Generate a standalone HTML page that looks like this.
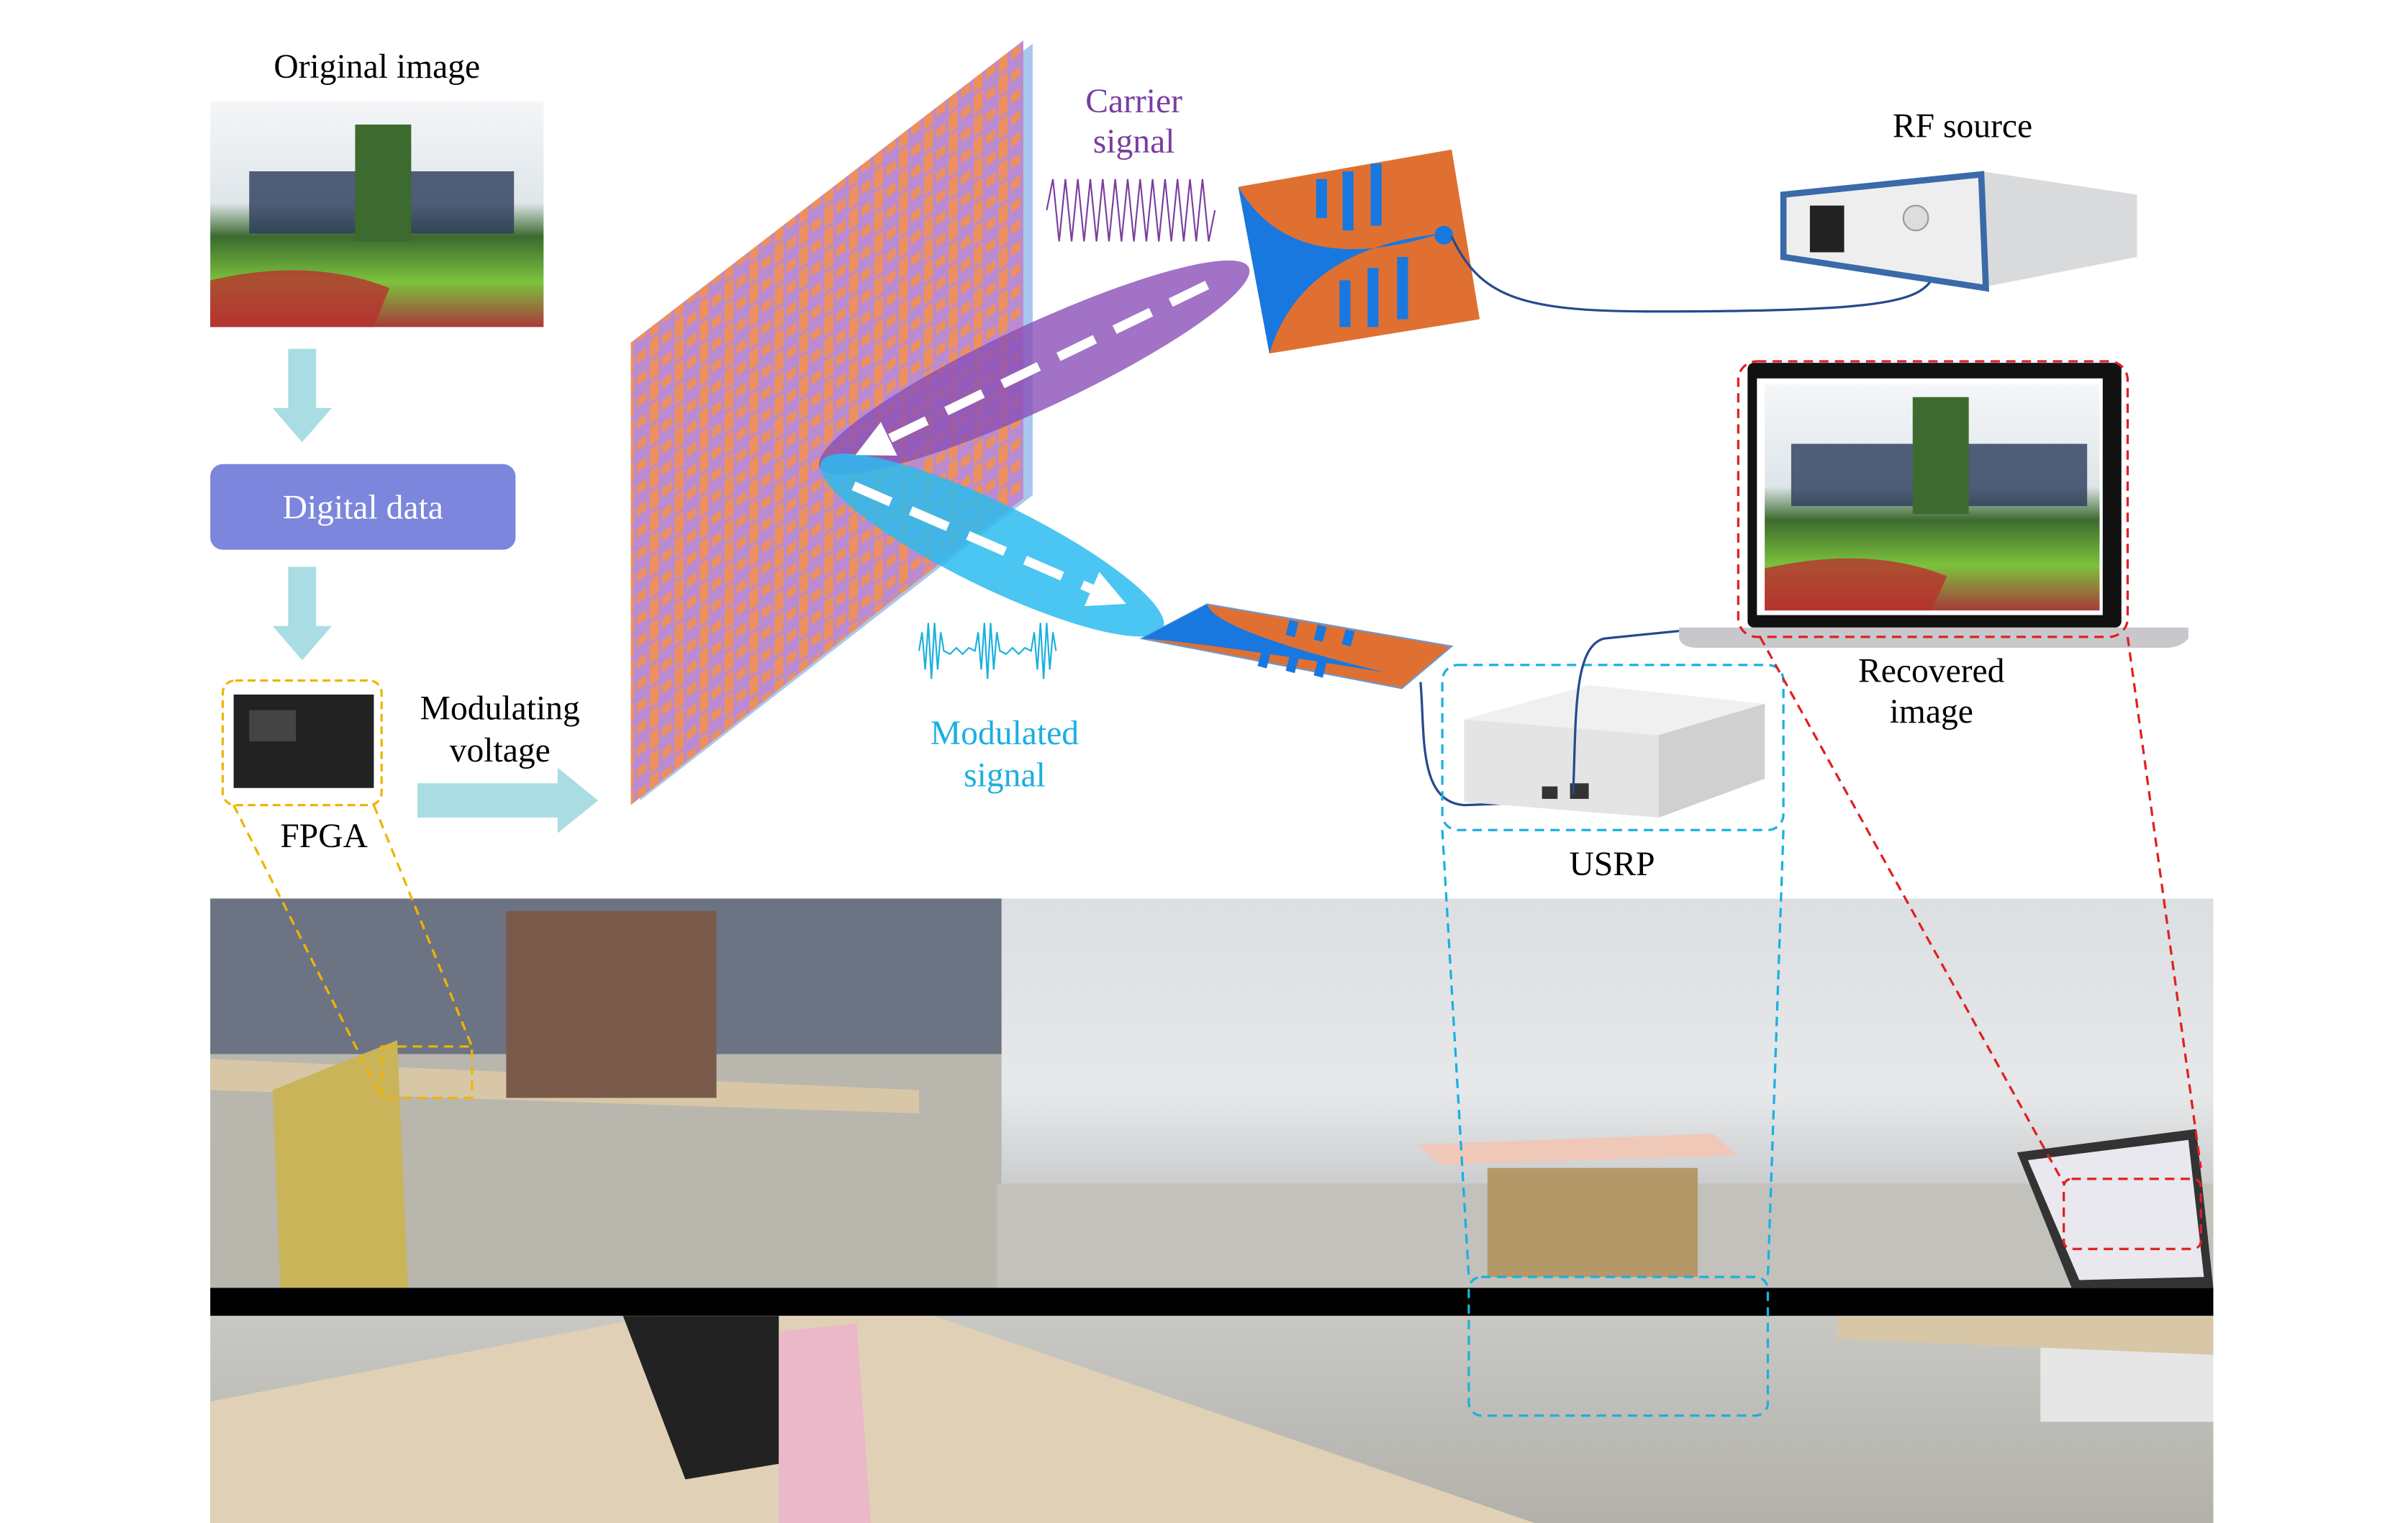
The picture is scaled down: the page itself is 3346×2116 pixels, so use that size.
<!DOCTYPE html>
<html><head><meta charset="utf-8"><style>
html,body{margin:0;padding:0;background:#fff;width:3346px;height:2116px;overflow:hidden}
svg{display:block}
text{font-family:"Liberation Serif",serif;font-size:22px;text-anchor:middle}
</style></head><body>
<svg width="3346" height="2116" viewBox="0 0 1546 978" preserveAspectRatio="none" xmlns="http://www.w3.org/2000/svg">
<defs>
<pattern id="meta" width="16" height="14" patternUnits="userSpaceOnUse" patternTransform="skewY(-37)">
<rect width="16" height="14" fill="#b98bd2"/>
<rect x="1" y="1" width="6" height="12" fill="#ec9060"/>
<rect x="9" y="4" width="6" height="6" fill="#ec9060"/>
</pattern>
<linearGradient id="sky" x1="0" y1="0" x2="0" y2="1"><stop offset="0" stop-color="#f4f6f8"/><stop offset="0.45" stop-color="#dfe6ea"/><stop offset="0.6" stop-color="#3c6a30"/><stop offset="0.8" stop-color="#7cc23c"/><stop offset="1" stop-color="#a83a3a"/></linearGradient>
<linearGradient id="wall" x1="0" y1="0" x2="0" y2="1"><stop offset="0" stop-color="#dcdfe2"/><stop offset="0.5" stop-color="#e6e8ea"/><stop offset="0.7" stop-color="#cfd1d3"/><stop offset="1" stop-color="#a9a9a6"/></linearGradient>
<linearGradient id="low" x1="0" y1="0" x2="0" y2="1"><stop offset="0" stop-color="#c8c8c4"/><stop offset="1" stop-color="#b0aea8"/></linearGradient>
<marker id="ah" viewBox="0 0 10 10" refX="5" refY="5" markerWidth="4" markerHeight="4" orient="auto"><path d="M0,0L10,5L0,10z" fill="#fff"/></marker>
</defs>

<!-- Original image -->
<text x="242" y="50">Original image</text>
<rect x="135" y="65" width="214" height="145" fill="url(#sky)"/>
<rect x="160" y="110" width="170" height="40" fill="#2a3a5a" opacity="0.8"/>
<rect x="228" y="80" width="36" height="75" fill="#3d6a2e"/>
<path d="M135,180 Q200,165 250,185 L240,210 L135,210z" fill="#b8322e" opacity="0.8"/>

<!-- down arrows -->
<path d="M185,224h18v38h10l-19,22l-19,-22h10z" fill="#a9dde3"/>
<rect x="135" y="298" width="196" height="55" rx="8" fill="#7b86dc"/>
<text x="233" y="333" fill="#fff">Digital data</text>
<path d="M185,364h18v38h10l-19,22l-19,-22h10z" fill="#a9dde3"/>

<!-- FPGA -->
<rect x="143" y="437" width="102" height="80" rx="8" fill="none" stroke="#f0b400" stroke-width="1.5" stroke-dasharray="5,3"/>
<rect x="150" y="446" width="90" height="60" fill="#222"/>
<rect x="160" y="456" width="30" height="20" fill="#444"/>
<text x="208" y="544">FPGA</text>
<text x="321" y="462">Modulating</text>
<text x="321" y="489">voltage</text>
<path d="M268,503h90v-10l26,21l-26,21v-10h-90z" fill="#a9dde3"/>

<!-- Metasurface -->
<path d="M411,222 L663,28 L663,318 L411,514z" fill="#a9c6ec"/>
<path d="M405,220 L657,26 L657,320 L405,517z" fill="url(#meta)"/>

<!-- Beams -->
<ellipse cx="664" cy="236" rx="152" ry="27" transform="rotate(-25 664 236)" fill="#8a4fb8" opacity="0.8"/>
<ellipse cx="637" cy="350" rx="122" ry="27" transform="rotate(26 637 350)" fill="#2cbbee" opacity="0.85"/>
<line x1="775" y1="183" x2="560" y2="287" stroke="#fff" stroke-width="6" stroke-dasharray="26,14" marker-end="url(#ah)"/>
<line x1="548" y1="312" x2="712" y2="383" stroke="#fff" stroke-width="6" stroke-dasharray="26,14" marker-end="url(#ah)"/>

<!-- carrier signal -->
<text x="728" y="72" fill="#7a3e9e">Carrier</text>
<text x="728" y="98" fill="#7a3e9e">signal</text>
<path d="M672,135 l4,-20 l4,40 l4,-40 l4,40 l4,-40 l4,40 l4,-40 l4,40 l4,-40 l4,40 l4,-40 l4,40 l4,-40 l4,40 l4,-40 l4,40 l4,-40 l4,40 l4,-40 l4,40 l4,-40 l4,40 l4,-40 l4,40 l4,-40 l4,40 l4,-20" fill="none" stroke="#7a3e9e" stroke-width="1"/>

<!-- TX antenna -->
<path d="M795,120 L932,96 L950,205 L815,227z" fill="#e07032"/>
<path d="M795,120 Q830,180 925,150 Q835,160 815,227z" fill="#1878e0"/>
<g fill="#1878e0"><rect x="845" y="115" width="7" height="25"/><rect x="862" y="110" width="7" height="38"/><rect x="880" y="105" width="7" height="40"/><rect x="860" y="180" width="7" height="30"/><rect x="878" y="172" width="7" height="38"/><rect x="897" y="165" width="7" height="40"/></g>
<circle cx="927" cy="151" r="6" fill="#1878e0"/>
<path d="M932,152 C950,190 975,200 1060,200 C1200,200 1230,195 1240,180" fill="none" stroke="#274a8e" stroke-width="1.5"/>

<!-- RF source -->
<text x="1260" y="88">RF source</text>
<path d="M1145,125 L1272,110 L1372,125 L1372,165 L1270,185 L1145,165z" fill="#d8dadc"/>
<path d="M1145,125 L1272,112 L1275,185 L1145,165z" fill="#eeeeee" stroke="#3a6aa8" stroke-width="4"/>
<rect x="1162" y="132" width="22" height="30" fill="#222"/>
<circle cx="1230" cy="140" r="8" fill="#ddd" stroke="#999"/>

<!-- Modulated signal -->
<path d="M590,418 l2,-12 l2,24 l2,-30 l2,36 l2,-36 l2,30 l2,-24 l2,12 l4,2 l4,-4 l4,4 l4,-4 l4,2 l2,-12 l2,24 l2,-30 l2,36 l2,-36 l2,30 l2,-24 l2,12 l4,2 l4,-4 l4,4 l4,-4 l4,2 l2,-12 l2,24 l2,-30 l2,36 l2,-36 l2,30 l2,-24 l2,12" fill="none" stroke="#1ab0e0" stroke-width="1"/>
<text x="645" y="478" fill="#1ab0e0">Modulated</text>
<text x="645" y="505" fill="#1ab0e0">signal</text>

<!-- RX antenna -->
<path d="M733,410 L775,388 L932,415 L900,442z" fill="#e07032" stroke="#6a9ad0" stroke-width="1"/>
<path d="M733,410 L775,388 Q780,405 890,432 Q770,412 733,410z" fill="#1878e0"/>
<g fill="#1878e0"><rect x="828" y="398" width="6" height="10" transform="rotate(15 828 398)"/><rect x="846" y="401" width="6" height="10" transform="rotate(15 846 401)"/><rect x="864" y="404" width="6" height="10" transform="rotate(15 864 404)"/><rect x="810" y="418" width="6" height="10" transform="rotate(15 810 418)"/><rect x="828" y="421" width="6" height="10" transform="rotate(15 828 421)"/><rect x="846" y="424" width="6" height="10" transform="rotate(15 846 424)"/></g>
<path d="M912,438 C915,470 910,515 940,517 L995,515" fill="none" stroke="#274a8e" stroke-width="1.5"/>

<!-- USRP -->
<path d="M940,462 L1020,440 L1133,452 L1133,500 L1065,525 L940,515z" fill="#e4e4e4"/>
<path d="M940,462 L1020,440 L1133,452 L1065,472z" fill="#f0f0f0"/>
<path d="M1065,472 L1133,452 L1133,500 L1065,525z" fill="#d0d0d0"/>
<rect x="990" y="505" width="10" height="8" fill="#333"/><rect x="1008" y="503" width="12" height="10" fill="#333"/>
<rect x="926" y="427" width="219" height="106" rx="10" fill="none" stroke="#1ab0e0" stroke-width="1.5" stroke-dasharray="6,4"/>
<text x="1035" y="562">USRP</text>
<path d="M1010,510 C1012,460 1010,415 1030,410 L1080,405" fill="none" stroke="#274a8e" stroke-width="1.5"/>

<!-- Laptop -->
<rect x="1122" y="233" width="240" height="170" rx="4" fill="#111"/>
<rect x="1128" y="243" width="222" height="152" fill="#fff"/>
<rect x="1133" y="247" width="215" height="145" fill="url(#sky)"/>
<rect x="1150" y="285" width="190" height="40" fill="#2a3a5a" opacity="0.8"/>
<rect x="1228" y="255" width="36" height="75" fill="#3d6a2e"/>
<path d="M1133,365 Q1200,350 1250,370 L1240,392 L1133,392z" fill="#b8322e" opacity="0.8"/>
<path d="M1078,403 L1405,403 L1405,410 Q1400,416 1390,416 L1090,416 Q1080,416 1078,410z" fill="#c8c8cc"/>
<rect x="1116" y="232" width="250" height="177" rx="12" fill="none" stroke="#e02020" stroke-width="1.5" stroke-dasharray="6,4"/>
<text x="1240" y="438">Recovered</text>
<text x="1240" y="464">image</text>

<!-- Photo top -->
<rect x="135" y="577" width="1286" height="250" fill="url(#wall)"/>
<rect x="135" y="577" width="508" height="100" fill="#6c7484"/>
<rect x="135" y="677" width="508" height="150" fill="#b9b6ae"/>
<path d="M135,680 L590,700 L590,715 L135,700z" fill="#d7c7a6"/>
<rect x="325" y="585" width="135" height="120" fill="#7a5a4a"/>
<path d="M175,700 L255,668 L262,827 L180,827z" fill="#c9b45a"/>
<path d="M640,760 L1421,760 L1421,827 L640,827z" fill="#c2c1bc"/>
<path d="M910,735 L1100,728 L1115,742 L925,748z" fill="#f0c8b8"/>
<rect x="955" y="750" width="135" height="70" fill="#b59868"/>
<path d="M1295,740 L1410,725 L1421,827 L1330,827z" fill="#333"/>
<path d="M1302,745 L1405,732 L1415,820 L1335,822z" fill="#e8e8ee"/>
<rect x="135" y="827" width="1286" height="18" fill="#000"/>
<!-- Photo bottom -->
<rect x="135" y="845" width="1286" height="145" fill="url(#low)"/>
<path d="M135,900 L420,845 L600,845 L1020,990 L135,990z" fill="#e0d0b6"/>
<path d="M400,845 L500,845 L500,940 L440,950z" fill="#222"/>
<path d="M500,855 L550,850 L560,990 L500,990z" fill="#eab8c8"/>
<rect x="1310" y="858" width="111" height="55" fill="#e6e6e6"/>
<path d="M1180,845 L1421,845 L1421,870 L1180,860z" fill="#d7c7a6"/>

<!-- connector dashes -->
<g fill="none" stroke-width="1.5" stroke-dasharray="6,4">
<path d="M150,517 L245,705 M240,517 L303,672" stroke="#f0b400"/>
<rect x="245" y="672" width="58" height="33" stroke="#f0b400"/>
<path d="M926,533 L943,820 M1145,533 L1135,820" stroke="#1ab0e0"/>
<rect x="943" y="820" width="192" height="89" rx="8" stroke="#1ab0e0"/>
<path d="M1130,409 L1325,760 M1366,409 L1413,750" stroke="#e02020"/>
<rect x="1325" y="757" width="88" height="45" rx="5" stroke="#e02020"/>
</g>
</svg>
</body></html>
